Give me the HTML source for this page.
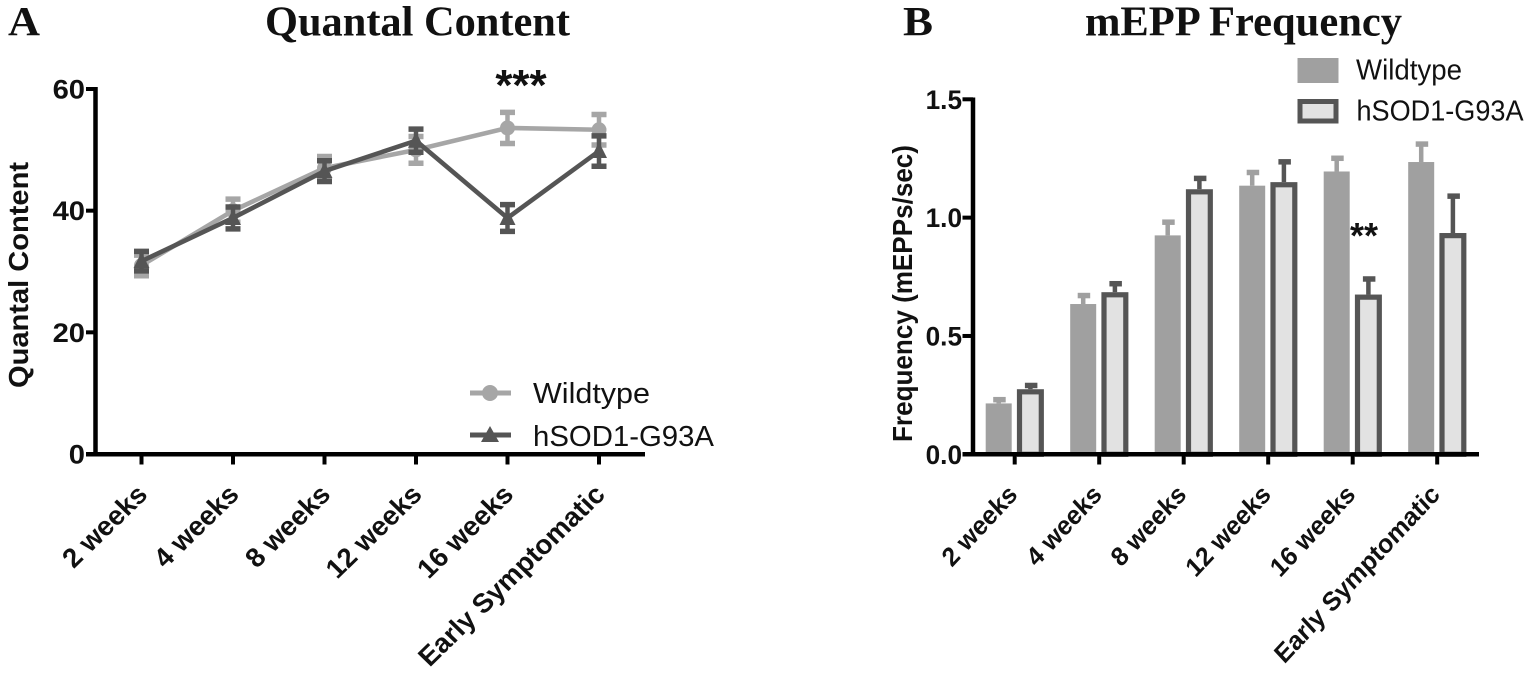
<!DOCTYPE html>
<html lang="en">
<head>
<meta charset="utf-8">
<title>Quantal Content and mEPP Frequency</title>
<style>
html,body{margin:0;padding:0;background:#fff;width:1535px;height:677px;overflow:hidden}
svg{display:block;position:absolute;left:0;top:0}
text{font-family:"Liberation Sans",sans-serif;fill:#111}
.serif{font-family:"Liberation Serif",serif;font-weight:bold}
</style>
</head>
<body>
<svg id="figure" width="1535" height="677" viewBox="0 0 1535 677" xmlns="http://www.w3.org/2000/svg">
  <rect width="1535" height="677" fill="#fff"/>
  <text class="serif" x="8" y="35" font-size="41" textLength="32" lengthAdjust="spacingAndGlyphs">A</text>
  <text class="serif" x="903" y="35" font-size="41" textLength="30" lengthAdjust="spacingAndGlyphs">B</text>
  <text class="serif" x="265" y="35.5" font-size="42" textLength="305" lengthAdjust="spacingAndGlyphs">Quantal Content</text>
  <text class="serif" x="1085" y="35.5" font-size="42" textLength="317" lengthAdjust="spacingAndGlyphs">mEPP Frequency</text>
  <text transform="translate(28,388) rotate(-90)" font-size="28" font-weight="bold" textLength="226" lengthAdjust="spacingAndGlyphs">Quantal Content</text>
  <text transform="translate(912,442) rotate(-90)" font-size="28" font-weight="bold" textLength="297" lengthAdjust="spacingAndGlyphs">Frequency (mEPPs/sec)</text>
  <text x="521" y="100" font-size="44" font-weight="bold" text-anchor="middle">***</text>
  <text x="1364" y="248" font-size="36" font-weight="bold" text-anchor="middle">**</text>

  <g id="chartA"></g>
  <g id="chartB"></g>

  <g>
    <g>
      <line x1="470" x2="511" y1="393" y2="393" stroke="#a6a6a6" stroke-width="5"/>
      <circle cx="490" cy="393" r="8" fill="#a6a6a6"/>
      <text x="533" y="403" font-size="29" textLength="117" lengthAdjust="spacingAndGlyphs">Wildtype</text>
    </g>
    <g>
      <line x1="470" x2="511" y1="435" y2="435" stroke="#555" stroke-width="5"/>
      <polygon points="490,426 499,442 481,442" fill="#555"/>
      <text x="533" y="446" font-size="29" textLength="181" lengthAdjust="spacingAndGlyphs">hSOD1-G93A</text>
    </g>
  </g>
  <g>
    <g>
      <rect x="1297.5" y="58" width="41" height="25" fill="#a0a0a0"/>
      <text x="1356" y="79.5" font-size="29" textLength="106" lengthAdjust="spacingAndGlyphs">Wildtype</text>
    </g>
    <g>
      <rect x="1300" y="101.5" width="36" height="19.5" fill="#e2e2e2" stroke="#555" stroke-width="5"/>
      <text x="1356.5" y="120.7" font-size="29" textLength="167" lengthAdjust="spacingAndGlyphs">hSOD1-G93A</text>
    </g>
  </g>
</svg>
<script>
const categories = ['2 weeks', '4 weeks', '8 weeks', '12 weeks', '16 weeks', 'Early Symptomatic'];

const quantalTicks = [0, 20, 40, 60];
const quantalWildtype = [31, 40, 47, 50, 53.6, 53.3];
const quantalWildtypeErr = [1.7, 1.9, 1.9, 2.2, 2.55, 2.5];
const quantalHsod = [31.7, 38.8, 46.5, 51.5, 38.8, 49.8];
const quantalHsodErr = [1.6, 1.8, 1.7, 1.9, 2.2, 2.5];

const freqTicks = ['0.0', '0.5', '1.0', '1.5'];
const freqWildtype = [0.215, 0.635, 0.925, 1.135, 1.195, 1.235];
const freqWildtypeErr = [0.02, 0.04, 0.06, 0.06, 0.06, 0.08];
const freqHsod = [0.275, 0.685, 1.12, 1.15, 0.675, 0.935];
const freqHsodErr = [0.02, 0.04, 0.05, 0.09, 0.07, 0.16];

const NS = 'http://www.w3.org/2000/svg';
function make(parent, tag, attrs) {
  const el = document.createElementNS(NS, tag);
  for (const k in attrs) el.setAttribute(k, attrs[k]);
  parent.appendChild(el);
  return el;
}

/* Panel A scales */
const xA = i => 141.5 + i * 91.5;
const yA = v => 454 - v * (365 / 60);
/* Panel B scales */
const xB = i => 1014.7 + i * 84.5;
const yB = v => 454.3 - v * (355 / 1.5);

const chartA = document.getElementById('chartA');
const chartB = document.getElementById('chartB');

function drawLineSeries(means, errs, color, key, marker) {
  means.forEach((m, i) => {
    const top = yA(m + errs[i]);
    const bot = yA(m - errs[i]);
    const x = xA(i);
    const stem = make(chartA, 'line', {x1: x, x2: x, y1: top, y2: bot, stroke: color, 'stroke-width': 4.5});
    
    
    const caps = make(chartA, 'path', {
      d: 'M' + (x - 7.5) + ' ' + top + 'H' + (x + 7.5) +
         'M' + (x - 7.5) + ' ' + bot + 'H' + (x + 7.5),
      stroke: color, 'stroke-width': 5.5, fill: 'none'
    });
    
    
  });
  const line = make(chartA, 'polyline', {
    points: means.map((m, i) => xA(i) + ',' + yA(m)).join(' '),
    fill: 'none', stroke: color, 'stroke-width': 4.6, 'stroke-linejoin': 'miter'
  });
  
  
  means.forEach((m, i) => {
    const x = xA(i), y = yA(m);
    let pt;
    if (marker === 'circle') {
      pt = make(chartA, 'circle', {cx: x, cy: y, r: 7.5, fill: color});
    } else {
      pt = make(chartA, 'polygon', {
        points: x + ',' + (y - 9) + ' ' + (x + 8) + ',' + (y + 7) + ' ' + (x - 8) + ',' + (y + 7),
        fill: color
      });
    }
    
    
  });
}
drawLineSeries(quantalWildtype, quantalWildtypeErr, '#a6a6a6', 'wildtype', 'circle');
drawLineSeries(quantalHsod, quantalHsodErr, '#555555', 'hsod1', 'triangle');

function drawErrorCap(x, valTop, err, color, key) {
  const top = yB(valTop + err);
  const stem = make(chartB, 'line', {x1: x, x2: x, y1: yB(valTop), y2: top, stroke: color, 'stroke-width': 4.5});
  
  
  const cap = make(chartB, 'line', {x1: x - 5.5, x2: x + 7, y1: top + 1, y2: top + 1, stroke: color, 'stroke-width': 5.5});
  
  
}

freqWildtype.forEach((v, i) => {
  const x = xB(i) - 29;
  drawErrorCap(x + 13, v, freqWildtypeErr[i], '#a0a0a0', 'wildtype');
  const bar = make(chartB, 'rect', {x: x, y: yB(v), width: 26, height: yB(0) - yB(v), fill: '#a0a0a0'});
  
  
});
freqHsod.forEach((v, i) => {
  const x = xB(i) + 2.2;
  drawErrorCap(x + 13.5, v, freqHsodErr[i], '#555555', 'hsod1');
  const bar = make(chartB, 'rect', {
    x: x + 2.6, y: yB(v) + 2.6, width: 21.8, height: yB(0) - yB(v) - 2.6,
    fill: '#e2e2e2', stroke: '#555555', 'stroke-width': 5.2
  });
  
  
});

function drawAxes(parent, prefix, opts) {
  const axisY = make(parent, 'line', {x1: opts.axisX, x2: opts.axisX, y1: opts.yTop, y2: 456, stroke: '#000', 'stroke-width': 4.5});
  
  
  const axisX = make(parent, 'line', {x1: opts.left, x2: opts.right, y1: 454.3, y2: 454.3, stroke: '#000', 'stroke-width': 4.5});
  
  
  opts.ticks.forEach(t => {
    const y = opts.y(Number(t));
    const tick = make(parent, 'line', {x1: opts.left, x2: opts.axisX, y1: y, y2: y, stroke: '#000', 'stroke-width': 4});
    
    
    const label = make(parent, 'text', {
      transform: 'translate(' + opts.yLabelX + ',' + (y + 9.5) + ') scale(' + opts.yLabelScale + ',1)',
      'font-size': 27, 'font-weight': 'bold', 'text-anchor': 'end'
    });
    label.textContent = t;
    
    
  });
  categories.forEach((c, i) => {
    const x = opts.x(i);
    const tick = make(parent, 'line', {x1: x, x2: x, y1: 454, y2: 464.5, stroke: '#000', 'stroke-width': 4});
    
    
    const label = make(parent, 'text', {
      transform: 'translate(' + (x + opts.labelDx) + ',' + opts.labelY + ') scale(' + opts.labelScale + ',1) rotate(-45)',
      'font-size': opts.labelSize, 'font-weight': 'bold', 'text-anchor': 'end'
    });
    label.textContent = c;
    
    
  });
}
drawAxes(chartA, 'chart-a', {
  axisX: 95.5, yTop: 87, left: 86, right: 645, ticks: quantalTicks, y: yA, x: xA,
  yLabelX: 85, yLabelScale: 1.08, labelDx: 7.5, labelY: 496, labelScale: 1.03, labelSize: 27
});
drawAxes(chartB, 'chart-b', {
  axisX: 973, yTop: 97.5, left: 962.5, right: 1479, ticks: freqTicks, y: yB, x: xB,
  yLabelX: 962, yLabelScale: 0.97, labelDx: 4, labelY: 496, labelScale: 0.93, labelSize: 26.5
});
</script>
</body>
</html>
